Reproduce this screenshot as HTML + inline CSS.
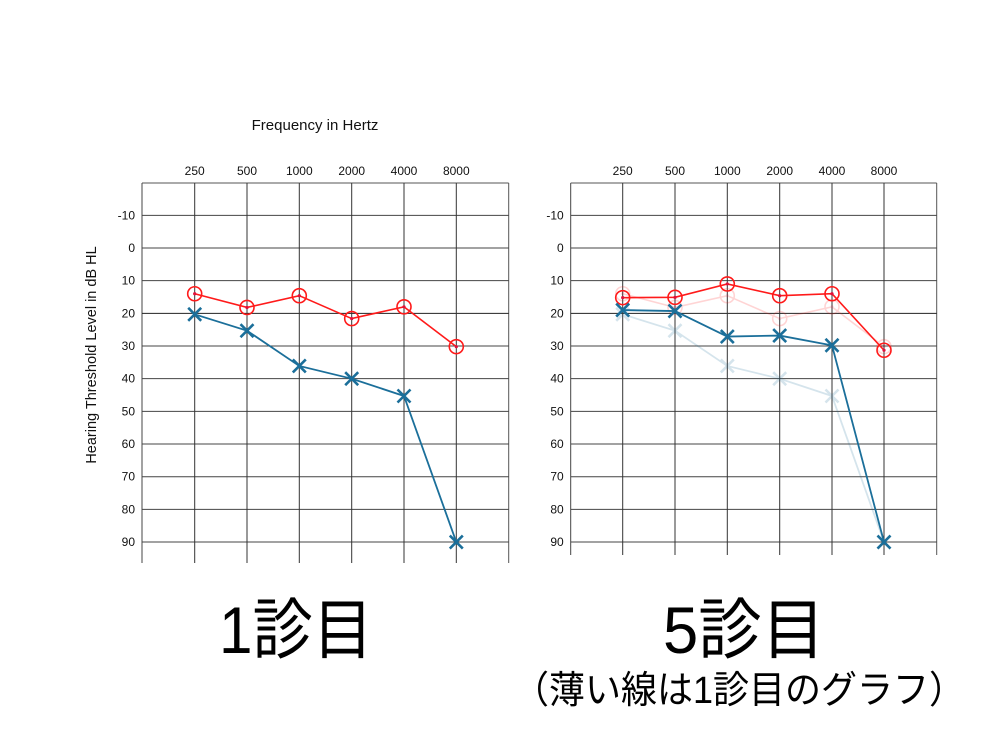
<!DOCTYPE html>
<html><head><meta charset="utf-8"><style>
html,body{margin:0;padding:0;background:#fff;}
svg{display:block;}
</style></head><body>
<svg width="1000" height="750" xmlns="http://www.w3.org/2000/svg" font-family="Liberation Sans, Noto Sans CJK JP, sans-serif">
<text x="315" y="130" font-size="15" text-anchor="middle" fill="#111">Frequency in Hertz</text>
<text transform="translate(96,355) rotate(-90)" font-size="14.5" text-anchor="middle" fill="#111">Hearing Threshold Level in dB HL</text>
<g id="L"></g>
<g id="R"></g>
<text x="296" y="653" font-size="66" text-anchor="middle" fill="#000" textLength="154" lengthAdjust="spacingAndGlyphs">1診目</text>
<text x="744" y="653" font-size="66" text-anchor="middle" fill="#000" textLength="162" lengthAdjust="spacingAndGlyphs">5診目</text>
<text x="739" y="703" font-size="38" text-anchor="middle" fill="#000" textLength="452" lengthAdjust="spacingAndGlyphs">（薄い線は1診目のグラフ）</text>
</svg>
<script>
const NS="http://www.w3.org/2000/svg";
function el(p,t,a,txt){const e=document.createElementNS(NS,t);for(const k in a)e.setAttribute(k,a[k]);if(txt!=null)e.textContent=txt;p.appendChild(e);return e;}
const Y=v=>248+3.267*v;
function chart(g,x0,xs,xr,bottom){
  const G=document.getElementById(g);
  const freqs=["250","500","1000","2000","4000","8000"];
  el(G,"line",{x1:x0,y1:183,x2:xr,y2:183,stroke:"#555","stroke-width":1});
  el(G,"line",{x1:x0,y1:183,x2:x0,y2:bottom,stroke:"#444","stroke-width":1});
  el(G,"line",{x1:xr,y1:183,x2:xr,y2:bottom,stroke:"#555","stroke-width":1});
  for(let v=-10;v<=90;v+=10){
    el(G,"line",{x1:x0,y1:Y(v),x2:xr,y2:Y(v),stroke:v==20?"#222":"#444","stroke-width":1});
    el(G,"text",{x:x0-7,y:Y(v)+4,"font-size":12,"text-anchor":"end",fill:"#111"},String(v));
  }
  xs.forEach((x,i)=>{
    el(G,"line",{x1:x,y1:183,x2:x,y2:bottom,stroke:"#333","stroke-width":1});
    el(G,"text",{x:x,y:175,"font-size":12,"text-anchor":"middle",fill:"#111"},freqs[i]);
  });
}
function series(g,xs,red,blue,op){
  const G=document.getElementById(g);
  const grp=el(G,"g",{opacity:op});
  el(grp,"polyline",{points:xs.map((x,i)=>x+","+Y(red[i])).join(" "),fill:"none",stroke:"#ff1a1a","stroke-width":1.6});
  el(grp,"polyline",{points:xs.map((x,i)=>x+","+Y(blue[i])).join(" "),fill:"none",stroke:"#1b6f9a","stroke-width":1.8});
  xs.forEach((x,i)=>{
    const y=Y(red[i]);
    el(grp,"circle",{cx:x,cy:y,r:7,fill:"none",stroke:"#ff1a1a","stroke-width":1.6});
    el(grp,"circle",{cx:x,cy:y,r:1.6,fill:"#e0103a"});
    const yb=Y(blue[i]),d=6.5;
    el(grp,"path",{d:`M${x-d},${yb-d}L${x+d},${yb+d}M${x-d},${yb+d}L${x+d},${yb-d}`,stroke:"#1b6f9a","stroke-width":2.6,fill:"none"});
  });
}
const xl=[194.7,247,299.3,351.7,404,456.3], xr=[622.7,675,727.3,779.7,832,884];
chart("L",142,xl,508.7,563);
chart("R",570.7,xr,936.7,555);
const r1=[14,18.2,14.6,21.6,18,30.2], b1=[20.3,25.3,36.1,40,45.3,90];
series("L",xl,r1,b1,1);
series("R",xr,r1,b1,0.18);
series("R",xr,[15.2,15.1,11,14.6,14,31.3],[19,19.3,27.1,26.8,29.8,90],1);
</script>
</body></html>
